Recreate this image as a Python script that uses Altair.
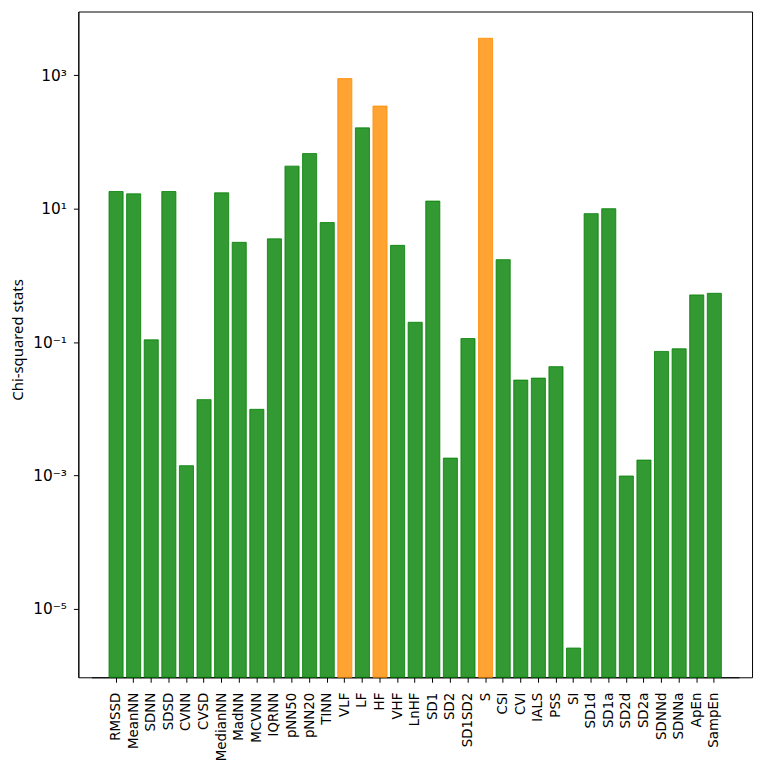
import math
import altair as alt
import pandas as pd

names = ["RMSSD", "MeanNN", "SDNN", "SDSD", "CVNN", "CVSD", "MedianNN", "MadNN",
         "MCVNN", "IQRNN", "pNN50", "pNN20", "TINN", "VLF", "LF", "HF", "VHF",
         "LnHF", "SD1", "SD2", "SD1SD2", "S", "CSI", "CVI", "IALS", "PSS", "SI",
         "SD1d", "SD1a", "SD2d", "SD2a", "SDNNd", "SDNNa", "ApEn", "SampEn"]
values = [18.1, 16.7, 0.108, 18.1, 0.0014, 0.0137, 17.3, 3.13,
          0.0098, 3.53, 43.5, 67.0, 6.2, 893.0, 163.0, 346.0, 2.82,
          0.198, 13.0, 0.00182, 0.113, 3600.0, 1.72, 0.0269, 0.0288, 0.0428, 2.58e-6,
          8.43, 10.0, 0.00098, 0.0017, 0.0724, 0.0793, 0.509, 0.539]
highlighted = ["VLF", "HF", "S"]
groups = ["high" if n in highlighted else "low" for n in names]

group_domain = ["low", "high"]
group_colors = ["#008000", "#FF8C00"]

y_domain = [9.4e-7, 9060]
y_tick_values = [1e-5, 1e-3, 1e-1, 10, 1000]
y_tick_labels = ["10⁻⁵", "10⁻³", "10⁻¹", "10¹", "10³"]

df = pd.DataFrame({"name": names, "value": values, "group": groups})

label_expr = ""
for v, l in zip(y_tick_values, y_tick_labels):
    label_expr += f"round(log(datum.value)/LN10) == {int(round(math.log10(v)))} ? '{l}' : "
label_expr += "''"

color_scale = alt.Scale(domain=group_domain, range=group_colors)

chart = alt.Chart(df).mark_bar(
    fillOpacity=0.8, strokeOpacity=0.8, strokeWidth=1
).encode(
    x=alt.X("name:N", sort=names,
            scale=alt.Scale(paddingInner=0.2, paddingOuter=1, range=[13.2, 666.8]),
            axis=alt.Axis(title=None, labelAngle=270, labelFont="DejaVu Sans",
                          labelFontSize=13.5, labelColor="black", tickSize=5,
                          tickColor="black", domainColor="black", labelPadding=10,
                          tickWidth=1, domainWidth=1, grid=False)),
    y=alt.Y("value:Q",
            scale=alt.Scale(type="log", domain=y_domain, nice=False),
            axis=alt.Axis(title="Chi-squared stats", values=y_tick_values,
                          labelExpr=label_expr, labelFont="DejaVu Sans",
                          labelFontSize=15.5, labelColor="black", tickSize=5,
                          tickColor="black", domainColor="black", labelPadding=7,
                          tickWidth=1, domainWidth=1, grid=False,
                          titleFont="Noto Sans", titleFontSize=15,
                          titleFontWeight="normal", titleColor="black",
                          titleX=-68, titleY=331, titleAngle=270,
                          titleAlign="center", titleBaseline="top")),
    y2=alt.Y2(datum=y_domain[0]),
    color=alt.Color("group:N", scale=color_scale, legend=None),
    stroke=alt.Stroke("group:N", scale=color_scale, legend=None),
).properties(
    width=680, height=672,
    autosize=alt.AutoSizeParams(type="none"),
    padding={"left": 71, "top": 0, "right": 5, "bottom": 86},
).configure_view(stroke="black", strokeWidth=1)

chart.save("out.html", embed_options={"renderer": "svg", "actions": False})
